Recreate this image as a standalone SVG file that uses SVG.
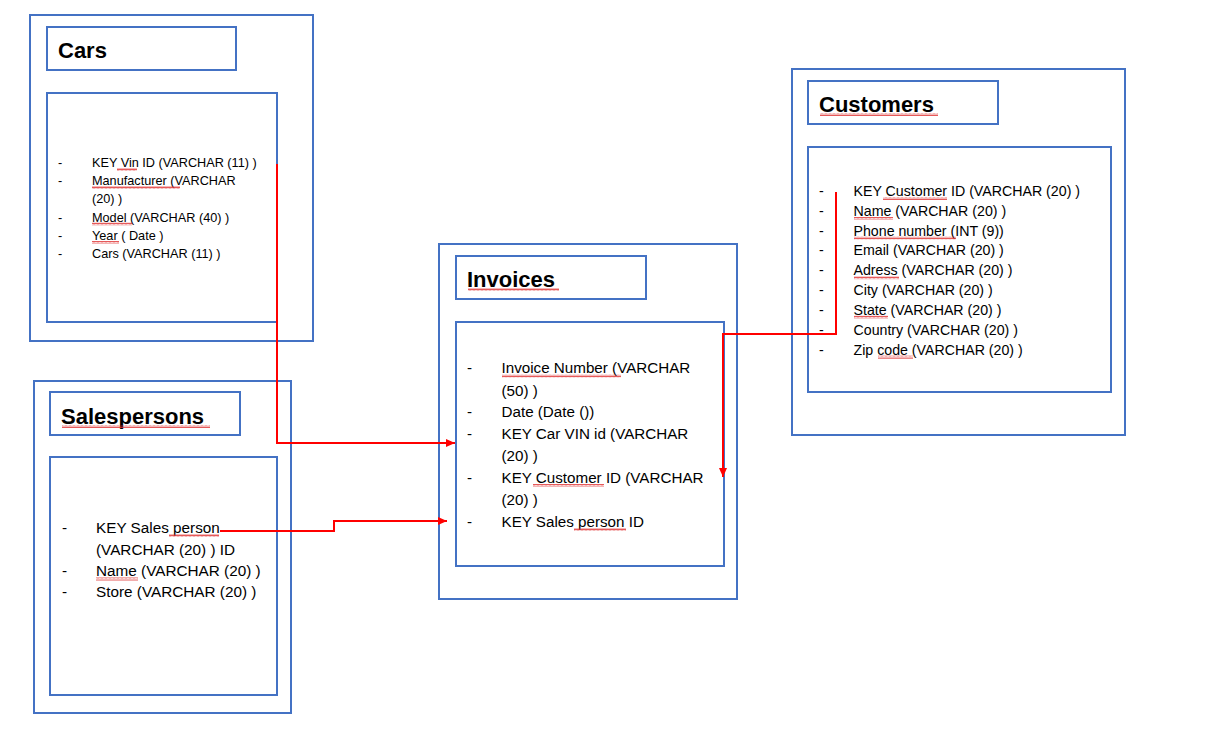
<svg xmlns="http://www.w3.org/2000/svg" width="1227" height="748" viewBox="0 0 1227 748">
  <style>
    .box { fill: none; stroke: #4472C4; stroke-width: 2; }
    .title { font-family: "Liberation Sans", Arial, sans-serif; font-weight: bold; font-size: 22px; fill: #000; }
    .f { font-family: "Liberation Sans", Arial, sans-serif; fill: #000; }
    .link { fill: none; stroke: #FF0000; stroke-width: 2; }
    .sq { fill: url(#squiggle); }
  </style>
  <defs>
    <!-- spell-check style wavy underline -->
    <pattern id="squiggle" patternUnits="userSpaceOnUse" width="4" height="3">
      <path d="M0 2.5 L1 0.5 L2 2.5 L3 0.5 L4 2.5" fill="none" stroke="#E03030" stroke-width="0.8"/>
    </pattern>
    <marker id="arrow" markerUnits="userSpaceOnUse" markerWidth="10" markerHeight="10" refX="9" refY="5" orient="auto">
      <path d="M0,1 L9,5 L0,9 Z" fill="#FF0000"/>
    </marker>
  </defs>

  <!-- Cars table -->
  <g id="cars">
    <rect class="box" x="30" y="15" width="283" height="326"/>
    <rect class="box" x="47" y="27" width="189" height="43"/>
    <text class="title" x="58" y="58">Cars</text>
    <rect class="box" x="47" y="93" width="230" height="229"/>
    <g class="f" font-size="12.7">
      <text x="58" y="167">-</text><text x="92" y="167">KEY Vin ID (VARCHAR (11) )</text>
      <text x="58" y="185">-</text><text x="92" y="185">Manufacturer (VARCHAR</text>
      <text x="92" y="203">(20) )</text>
      <text x="58" y="221.5">-</text><text x="92" y="221.5">Model (VARCHAR (40) )</text>
      <text x="58" y="240">-</text><text x="92" y="240">Year ( Date )</text>
      <text x="58" y="258">-</text><text x="92" y="258">Cars (VARCHAR (11) )</text>
    </g>
    <rect class="sq" x="117" y="168" width="20" height="3"/>
    <rect class="sq" x="92" y="186" width="88" height="3"/>
    <rect class="sq" x="92" y="222.5" width="40" height="3"/>
    <rect class="sq" x="92" y="241" width="27" height="3"/>
  </g>

  <!-- Salespersons table -->
  <g id="salespersons">
    <rect class="box" x="34" y="381" width="257" height="332"/>
    <rect class="box" x="50" y="392" width="190" height="43"/>
    <text class="title" x="61" y="424">Salespersons</text>
    <rect class="sq" x="62" y="425" width="148" height="3"/>
    <rect class="box" x="50" y="457" width="227" height="238"/>
    <g class="f" font-size="15.3">
      <text x="62" y="533">-</text><text x="96" y="533">KEY Sales person</text>
      <text x="96" y="554.7">(VARCHAR (20) ) ID</text>
      <text x="62" y="576.3">-</text><text x="96" y="576.3">Name (VARCHAR (20) )</text>
      <text x="62" y="597.3">-</text><text x="96" y="597.3">Store (VARCHAR (20) )</text>
    </g>
    <rect class="sq" x="169" y="534" width="50" height="3"/>
    <rect class="sq" x="96" y="577.5" width="42" height="3"/>
  </g>

  <!-- Invoices table -->
  <g id="invoices">
    <rect class="box" x="439" y="244" width="298" height="355"/>
    <rect class="box" x="456" y="256" width="190" height="43"/>
    <text class="title" x="467" y="287">Invoices</text>
    <rect class="sq" x="468" y="288" width="91" height="3"/>
    <rect class="box" x="456" y="322" width="268" height="244"/>
    <g class="f" font-size="15.2">
      <text x="467" y="373.3">-</text><text x="501.5" y="373.3">Invoice Number (VARCHAR</text>
      <text x="501.5" y="395.5">(50) )</text>
      <text x="467" y="417.3">-</text><text x="501.5" y="417.3">Date (Date ())</text>
      <text x="467" y="439">-</text><text x="501.5" y="439">KEY Car VIN id (VARCHAR</text>
      <text x="501.5" y="461">(20) )</text>
      <text x="467" y="482.7">-</text><text x="501.5" y="482.7">KEY Customer ID (VARCHAR</text>
      <text x="501.5" y="505">(20) )</text>
      <text x="467" y="526.7">-</text><text x="501.5" y="526.7">KEY Sales person ID</text>
    </g>
    <rect class="sq" x="502" y="374.5" width="119" height="3"/>
    <rect class="sq" x="533" y="484" width="71" height="3"/>
    <rect class="sq" x="574" y="528" width="52" height="3"/>
  </g>

  <!-- Customers table -->
  <g id="customers">
    <rect class="box" x="792" y="69" width="333" height="366"/>
    <rect class="box" x="808" y="81" width="190" height="43"/>
    <text class="title" x="819" y="112">Customers</text>
    <rect class="sq" x="820" y="113" width="118" height="3"/>
    <rect class="box" x="808" y="147" width="303" height="245"/>
    <g class="f" font-size="14.2">
      <text x="819" y="196">-</text><text x="853.5" y="196">KEY Customer ID (VARCHAR (20) )</text>
      <text x="819" y="216">-</text><text x="853.5" y="216">Name (VARCHAR (20) )</text>
      <text x="819" y="235.5">-</text><text x="853.5" y="235.5">Phone number (INT (9))</text>
      <text x="819" y="255">-</text><text x="853.5" y="255">Email (VARCHAR (20) )</text>
      <text x="819" y="275.3">-</text><text x="853.5" y="275.3">Adress (VARCHAR (20) )</text>
      <text x="819" y="295.3">-</text><text x="853.5" y="295.3">City (VARCHAR (20) )</text>
      <text x="819" y="314.7">-</text><text x="853.5" y="314.7">State (VARCHAR (20) )</text>
      <text x="819" y="334.7">-</text><text x="853.5" y="334.7">Country (VARCHAR (20) )</text>
      <text x="819" y="354.7">-</text><text x="853.5" y="354.7">Zip code (VARCHAR (20) )</text>
    </g>
    <rect class="sq" x="883" y="197" width="64" height="3"/>
    <rect class="sq" x="854" y="217" width="39" height="3"/>
    <rect class="sq" x="854" y="236.5" width="102" height="3"/>
    <rect class="sq" x="854" y="276.3" width="45" height="3"/>
    <rect class="sq" x="854" y="315.7" width="34" height="3"/>
    <rect class="sq" x="878" y="355.7" width="35" height="3"/>
  </g>

  <!-- Relationship connectors -->
  <g id="connectors">
    <path class="link" d="M277,164 V443 H455" marker-end="url(#arrow)"/>
    <path class="link" d="M220,531 H334 V521 H447" marker-end="url(#arrow)"/>
    <path class="link" d="M836,192 V334 H723 V477" marker-end="url(#arrow)"/>
  </g>
</svg>
